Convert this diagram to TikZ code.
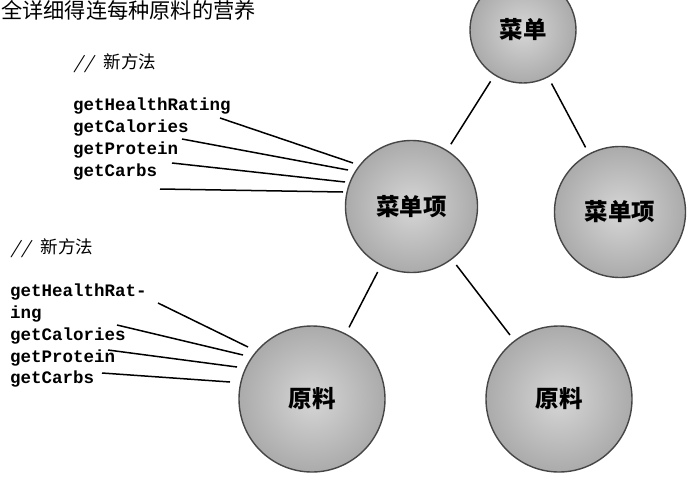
\documentclass[tikz,border=0pt]{standalone}
\usepackage{fontspec}
\newfontfamily\cjk{Noto Sans CJK SC}
\setmonofont{Liberation Mono}
\begin{document}
\begin{tikzpicture}[x=1pt,y=-1pt,
  ball/.style={circle, shade, inner color=gray!32, outer color=gray!66,
    draw=gray!55!black, line width=1.4pt, inner sep=0pt,
    font=\cjk\fontsize{23.5}{25}\selectfont\bfseries},
  meth/.style={anchor=west, inner sep=0pt, font=\ttfamily\bfseries\fontsize{17.5}{20}\selectfont},
  link/.style={line width=1.5pt, black, shorten <=7pt, shorten >=7pt},
  lead/.style={line width=1.5pt, black},
  note/.style={anchor=west, inner sep=0pt, font=\cjk\fontsize{17.5}{19}\selectfont}]
\useasboundingbox (0,0) rectangle (690,490);
\clip (0,0) rectangle (690,490);
\fill[white] (0,0) rectangle (690,490);

% header text
\node[anchor=west, inner sep=0pt, font=\cjk\fontsize{21.2}{23}\selectfont] (head) at (1,10) {全详细得连每种原料的营养};

% circles
\node[ball, minimum size=106pt] (menu) at (523,30) {菜单};
\node[ball, minimum size=132pt] (item1) at (411.5,206.5) {菜单项};
\node[ball, minimum size=131pt] (item2) at (620,212) {菜单项};
\node[ball, minimum size=146pt] (ing1) at (312,399) {原料};
\node[ball, minimum size=146pt] (ing2) at (559,399) {原料};

% tree links
\draw[link] (menu) -- (item1);
\draw[link] (menu) -- (item2);
\draw[link] (item1) -- (ing1);
\draw[link] (item1) -- (ing2);

% upper method list
\node[note] (n1) at (73,63) {{\rmfamily\itshape\bfseries //}\hspace{10pt}新方法};
\node[meth] (m1) at (73,106) {getHealthRating};
\node[meth] (m2) at (73,128) {getCalories};
\node[meth] (m3) at (73,150) {getProtein};
\node[meth] (m4) at (73,172) {getCarbs};

\coordinate (a1) at (220,118); \coordinate (b1) at (353,163);
\coordinate (a2) at (182,139); \coordinate (b2) at (348,170);
\coordinate (a3) at (172,163); \coordinate (b3) at (345,182);
\coordinate (a4) at (160,189); \coordinate (b4) at (343,192);
\draw[lead] (a1) -- (b1);
\draw[lead] (a2) -- (b2);
\draw[lead] (a3) -- (b3);
\draw[lead] (a4) -- (b4);

% lower method list
\node[note] (n2) at (10,248) {{\rmfamily\itshape\bfseries //}\hspace{10pt}新方法};
\node[meth] (k1) at (10,292) {getHealthRat-};
\node[meth] (k2) at (10,314) {ing};
\node[meth] (k3) at (10,336) {getCalories};
\node[meth] (k4) at (10,358) {getProtein};
\node[meth] (k5) at (10,379) {getCarbs};

\coordinate (c1) at (158,303); \coordinate (d1) at (248,347);
\coordinate (c2) at (117,325); \coordinate (d2) at (243,355);
\coordinate (c3) at (108,350); \coordinate (d3) at (237,367);
\coordinate (c4) at (102,373); \coordinate (d4) at (230,382);
\draw[lead] (c1) -- (d1);
\draw[lead] (c2) -- (d2);
\draw[lead] (c3) -- (d3);
\draw[lead] (c4) -- (d4);
\end{tikzpicture}
\end{document}
